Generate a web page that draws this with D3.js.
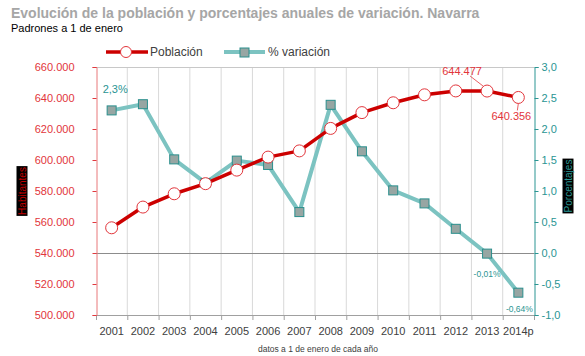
<!DOCTYPE html>
<html><head><meta charset="utf-8">
<script src="https://cdn.jsdelivr.net/npm/d3@7"></script>
<style>body{margin:0;background:#fff;font-family:Arial,"Liberation Sans",sans-serif}</style>
</head><body><svg id="c" width="585" height="356"></svg>
<script>
const years = ["2001","2002","2003","2004","2005","2006","2007","2008","2009","2010","2011","2012","2013","2014p"];
const poblacion = [556263,569628,578210,584734,593472,601874,605876,620377,630578,636924,642051,644566,644477,640356];
const variacion = [2.30,2.40,1.51,1.13,1.49,1.42,0.66,2.39,1.64,1.01,0.80,0.39,-0.01,-0.64];
const leftTicks = [500000,520000,540000,560000,580000,600000,620000,640000,660000];
const rightTicks = [-1,-0.5,0,0.5,1,1.5,2,2.5,3];

const svg = d3.select("#c");
const L=96,R=534,T=67,B=315;
const x = d3.scaleBand().domain(years).range([L,R]);
const yL = d3.scaleLinear().domain([500000,660000]).range([B,T]);
const yR = d3.scaleLinear().domain([-1,3]).range([B,T]);
const fmtP = d => d3.format(",")(d).replace(/,/g,".");
const fmtR = d => d.toFixed(1).replace(".",",");
const red="#cc0000", teal="#7cc3c1", tealDark="#2a8f8d", redTxt="#e2353b", tealTxt="#2a9593";

// title
svg.append("text").attr("x",11).attr("y",18).attr("font-size",14).attr("font-weight","bold").attr("fill","#a6a6a6").text("Evolución de la población y porcentajes anuales de variación. Navarra");
svg.append("text").attr("x",11).attr("y",32).attr("font-size",11).attr("fill","#000").text("Padrones a 1 de enero");

// gridlines
const gb = years.map(d=>x(d)).slice(1);
svg.append("g").selectAll("line").data(gb).join("line")
 .attr("x1",d=>d).attr("x2",d=>d).attr("y1",T).attr("y2",B).attr("stroke","#d9d9d9").attr("stroke-width",1);
svg.append("line").attr("x1",L).attr("x2",R).attr("y1",T+0.5).attr("y2",T+0.5).attr("stroke","#c8c8c8");
svg.append("line").attr("x1",L).attr("x2",R).attr("y1",Math.round(yR(0))+0.5).attr("y2",Math.round(yR(0))+0.5).attr("stroke","#8c8c8c").attr("stroke-width",1.2);

// bottom axis
const xb = [...years.map(d=>x(d)), R];
svg.append("line").attr("x1",L).attr("x2",R).attr("y1",B+0.5).attr("y2",B+0.5).attr("stroke","#a0a0a0");
svg.append("g").selectAll("line").data(xb).join("line").attr("x1",d=>d+0.5).attr("x2",d=>d+0.5).attr("y1",B).attr("y2",B+5).attr("stroke","#a0a0a0");
svg.append("g").selectAll("text").data(years).join("text")
 .attr("x",d=>x(d)+x.bandwidth()/2).attr("y",334.5).attr("text-anchor","middle").attr("font-size",11).attr("fill","#404040").text(d=>d);
svg.append("text").attr("x",(L+R)/2+3).attr("y",352).attr("text-anchor","middle").attr("font-size",8.5).attr("fill","#404040").text("datos a 1 de enero de cada año");

// left axis
const gl = svg.append("g").attr("transform",`translate(${L+0.5},0)`)
 .call(d3.axisLeft(yL).tickValues(leftTicks).tickSize(4).tickPadding(18).tickFormat(fmtP));
gl.select(".domain").attr("stroke","#e8787b");
gl.selectAll(".tick line").attr("stroke","#e0393e");
gl.selectAll("text").attr("fill",redTxt).attr("font-size",11).attr("font-family","Arial,'Liberation Sans',sans-serif");

// right axis
const gr = svg.append("g").attr("transform",`translate(${R+0.5},0)`)
 .call(d3.axisRight(yR).tickValues(rightTicks).tickSize(4).tickPadding(3).tickFormat(fmtR));
gr.select(".domain").attr("stroke","#2a9593");
gr.selectAll(".tick line").attr("stroke","#2a9593");
gr.selectAll("text").attr("fill",tealTxt).attr("font-size",11).attr("font-family","Arial,'Liberation Sans',sans-serif");

// axis titles
function boxLabel(cx,cy,txt,col){
  const g=svg.append("g").attr("transform",`translate(${cx},${cy}) rotate(-90)`);
  const t=g.append("text").attr("text-anchor","middle").attr("dy","0.35em").attr("font-size",10).attr("fill",col).text(txt);
  const bb=t.node().getBBox();
  g.insert("rect","text").attr("x",bb.x-1).attr("y",bb.y).attr("width",bb.width+2).attr("height",bb.height).attr("fill","#000");
}
boxLabel(22,191,"Habitantes","#c00000");
boxLabel(568,186,"Porcentajes","#2a9593");

const cx = d=>x(d)+x.bandwidth()/2;
// teal series
svg.append("path").datum(variacion).attr("fill","none").attr("stroke",teal).attr("stroke-width",4).attr("stroke-linejoin","round")
 .attr("d",d3.line().x((d,i)=>cx(years[i])).y(d=>yR(d)));
// red series
svg.append("path").datum(poblacion).attr("fill","none").attr("stroke",red).attr("stroke-width",3.5).attr("stroke-linejoin","round")
 .attr("d",d3.line().x((d,i)=>cx(years[i])).y(d=>yL(d)));
svg.append("g").selectAll("rect").data(variacion).join("rect")
 .attr("x",(d,i)=>cx(years[i])-4.5).attr("y",d=>yR(d)-4.5).attr("width",9).attr("height",9)
 .attr("fill","#97a6a3").attr("stroke",tealDark).attr("stroke-width",1);
svg.append("g").selectAll("circle").data(poblacion).join("circle")
 .attr("cx",(d,i)=>cx(years[i])).attr("cy",d=>yL(d)).attr("r",6)
 .attr("fill","#fff").attr("stroke",redTxt).attr("stroke-width",1);

// data labels
const fmtPct = (d,n)=> d.toFixed(n).replace(".",",")+"%";
svg.append("text").attr("x",cx(years[0])-9).attr("y",yR(variacion[0])-17).attr("font-size",11).attr("fill",tealTxt).text(fmtPct(variacion[0],1));
svg.append("text").attr("x",cx(years[12])).attr("y",yR(variacion[12])+23).attr("text-anchor","middle").attr("font-size",8.5).attr("fill",tealTxt).text(fmtPct(variacion[12],2));
svg.append("text").attr("x",cx(years[13])+1).attr("y",yR(variacion[13])+19).attr("text-anchor","middle").attr("font-size",8.5).attr("fill",tealTxt).text(fmtPct(variacion[13],2));
// population labels with leader lines
const p12x=cx(years[12]), p12y=yL(poblacion[12]);
svg.append("line").attr("x1",p12x-4).attr("y1",p12y-5).attr("x2",p12x-17).attr("y2",T+9).attr("stroke",redTxt).attr("stroke-width",0.8);
svg.append("text").attr("x",p12x-25).attr("y",T+8).attr("text-anchor","middle").attr("font-size",11).attr("fill",redTxt).text(fmtP(poblacion[12]));
const p13x=cx(years[13]), p13y=yL(poblacion[13]);
svg.append("line").attr("x1",p13x).attr("y1",p13y+6).attr("x2",p13x-1).attr("y2",p13y+13).attr("stroke",redTxt).attr("stroke-width",0.8);
svg.append("text").attr("x",p13x-7).attr("y",p13y+23).attr("text-anchor","middle").attr("font-size",11).attr("fill",redTxt).text(fmtP(poblacion[13]));

// legend
const lg=svg.append("g");
lg.append("line").attr("x1",106).attr("x2",148).attr("y1",52).attr("y2",52).attr("stroke",red).attr("stroke-width",3.5);
lg.append("circle").attr("cx",126).attr("cy",52).attr("r",5.5).attr("fill","#fff").attr("stroke",redTxt);
lg.append("text").attr("x",150).attr("y",56).attr("font-size",12).attr("fill","#404040").text("Población");
lg.append("line").attr("x1",224).attr("x2",265).attr("y1",52).attr("y2",52).attr("stroke",teal).attr("stroke-width",4);
lg.append("rect").attr("x",240).attr("y",48).attr("width",9).attr("height",9).attr("fill","#97a6a3").attr("stroke",tealDark);
lg.append("text").attr("x",268).attr("y",56).attr("font-size",12).attr("fill","#404040").text("% variación");
</script></body></html>
